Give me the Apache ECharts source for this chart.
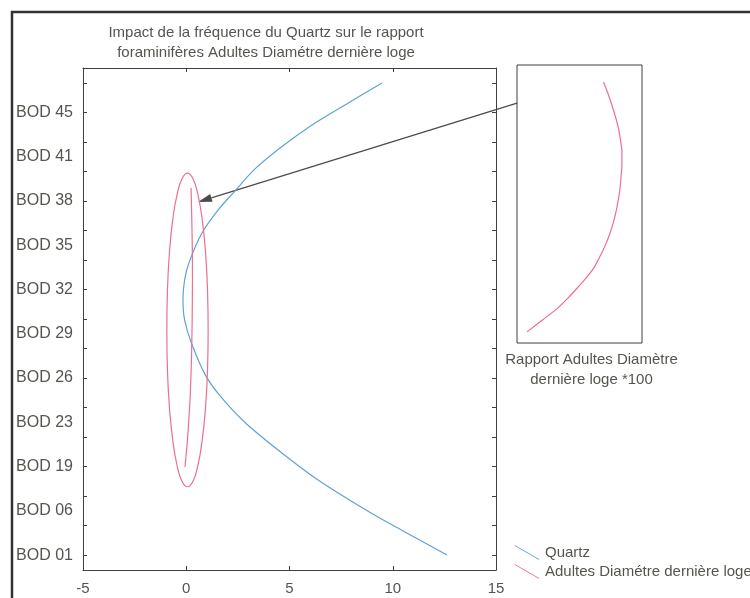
<!DOCTYPE html>
<html><head><meta charset="utf-8">
<script src="https://cdn.jsdelivr.net/npm/echarts@6/dist/echarts.min.js"></script>
<style>html,body{margin:0;padding:0;background:#fff}#c{width:750px;height:598px}</style>
</head><body><div id="c"></div>
<script>
// ---- data ----
const titleText = 'Impact de la fréquence du Quartz sur le rapport\nforaminifères Adultes Diamétre dernière loge';
const yTickLabels = ['BOD 01','BOD 06','BOD 19','BOD 23','BOD 26','BOD 29','BOD 32','BOD 35','BOD 38','BOD 41','BOD 45'];
const xTickValues = [-5, 0, 5, 10, 15];
const seriesNames = ['Quartz', 'Adultes Diamétre dernière loge'];
const insetCaption = 'Rapport Adultes Diamètre\ndernière loge *100';

const quartzX = [9.48, 7.69, 6.09, 4.54, 3.28, 2.41, 1.54, 0.76, 0.13, -0.08, -0.16, -0.08, 0.25, 0.93, 1.68, 2.87, 4.88, 6.53, 8.95, 10.59, 12.63];
const quartzY = [15.99, 15.25, 14.57, 13.79, 13.05, 12.37, 11.69, 10.91, 9.90, 9.32, 8.64, 7.97, 7.19, 6.10, 5.36, 4.48, 3.33, 2.48, 1.43, 0.79, 0.01];

const ellipseX = [1.06, 1.03, 0.93, 0.77, 0.56, 0.32, 0.06, -0.20, -0.44, -0.65, -0.81, -0.91, -0.94, -0.91, -0.81, -0.65, -0.44, -0.20, 0.06, 0.32, 0.56, 0.77, 0.93, 1.03, 1.06];
const ellipseY = [7.63, 9.00, 10.29, 11.38, 12.23, 12.76, 12.94, 12.76, 12.23, 11.38, 10.29, 9.00, 7.63, 6.26, 4.97, 3.88, 3.03, 2.50, 2.32, 2.50, 3.03, 3.88, 4.97, 6.26, 7.63];

const adultesX = [0.230, 0.247, 0.262, 0.276, 0.287, 0.295, 0.300, 0.300, 0.297, 0.293, 0.287, 0.279, 0.268, 0.254, 0.237, 0.217, 0.192, 0.162, 0.129, 0.093, 0.054, 0.000, -0.060];
const adultesY = [12.44, 12.00, 11.56, 11.10, 10.68, 10.20, 9.79, 9.35, 8.91, 8.45, 8.03, 7.60, 7.15, 6.70, 6.27, 5.85, 5.39, 5.00, 4.63, 4.25, 3.87, 3.45, 2.99];

const arrowTipMain = [0.57, 11.96];
const arrowTailInset = [-9.8, 11.64];

// ---- build ----
const FONT = "'Liberation Sans', Arial, sans-serif";
const TXT = '#55554f';
const AX = '#3f3f3f';
const BLUE = '#5ea2d6';
const PINK = '#ec6f8e';

const zip = (xs, ys, k) => xs.map((x, i) => [x * (k || 1), ys[i]]);
const yTickPos = Array.from({length: 17}, (_, i) => i);
const yLabelPos = yTickLabels.map((_, i) => i * 1.5);

const chart = echarts.init(document.getElementById('c'), null, {renderer: 'canvas'});
const frameAxisLine = {show: true, onZero: false, lineStyle: {color: AX, width: 1}};
chart.setOption({
  animation: false,
  backgroundColor: '#ffffff',
  textStyle: {fontFamily: FONT},
  title: {
    text: titleText, left: 261, top: 18, textAlign: 'center',
    textStyle: {fontSize: 15, fontWeight: 'normal', color: TXT, lineHeight: 20, fontFamily: FONT}
  },
  legend: {
    orient: 'vertical', left: 509, top: 540, itemWidth: 26, itemHeight: 14, itemGap: 4,
    symbolKeepAspect: false,
    icon: 'path://M0,0 L1.6,0 L26,13 L24.4,13 Z',
    data: seriesNames,
    textStyle: {fontSize: 15, color: TXT, fontFamily: FONT}
  },
  grid: [
    {left: 83, top: 68, width: 413, height: 502, containLabel: false},
    {left: 517, top: 65, width: 125, height: 278, show: true, borderColor: AX, borderWidth: 1, backgroundColor: 'transparent'}
  ],
  xAxis: [
    {type: 'value', gridIndex: 0, min: -5, max: 15, interval: 5, position: 'bottom',
     axisLine: frameAxisLine, splitLine: {show: false},
     axisTick: {show: true, inside: true, length: 4, lineStyle: {color: AX}},
     axisLabel: {fontSize: 15, color: TXT, margin: 11, fontFamily: FONT}},
    {type: 'value', gridIndex: 0, min: -5, max: 15, interval: 5, position: 'top',
     axisLine: frameAxisLine, splitLine: {show: false},
     axisTick: {show: true, inside: true, length: 4, lineStyle: {color: AX}},
     axisLabel: {show: false}},
    {type: 'value', gridIndex: 1, min: -9.8, max: 37.6, show: false}
  ],
  yAxis: [
    {type: 'value', gridIndex: 0, min: -0.5, max: 16.5, position: 'left',
     axisLine: frameAxisLine, splitLine: {show: false},
     axisTick: {show: true, inside: true, length: 4, lineStyle: {color: AX}, customValues: yTickPos},
     axisLabel: {fontSize: 16, color: TXT, margin: 10, fontFamily: FONT, customValues: yLabelPos,
       formatter: v => yTickLabels[Math.round(v / 1.5)] || ''}},
    {type: 'value', gridIndex: 0, min: -0.5, max: 16.5, position: 'right',
     axisLine: frameAxisLine, splitLine: {show: false},
     axisTick: {show: true, inside: true, length: 4, lineStyle: {color: AX}, customValues: yTickPos},
     axisLabel: {show: false}},
    {type: 'value', gridIndex: 1, min: 2.57, max: 13.08, show: false}
  ],
  series: [
    {name: seriesNames[0], type: 'line', xAxisIndex: 0, yAxisIndex: 0, data: zip(quartzX, quartzY),
     showSymbol: false, symbol: 'none', smooth: 0.35, color: BLUE, lineStyle: {width: 1.2, color: BLUE}},
    {name: seriesNames[1], type: 'line', xAxisIndex: 0, yAxisIndex: 0, data: zip(ellipseX, ellipseY),
     showSymbol: false, symbol: 'none', smooth: 0.5, color: PINK, lineStyle: {width: 1.2, color: PINK}},
    {name: seriesNames[1], type: 'line', xAxisIndex: 0, yAxisIndex: 0, data: zip(adultesX, adultesY),
     showSymbol: false, symbol: 'none', smooth: 0.3, color: PINK, lineStyle: {width: 1.2, color: PINK}},
    {name: seriesNames[1], type: 'line', xAxisIndex: 2, yAxisIndex: 2, data: zip(adultesX, adultesY, 100),
     showSymbol: false, symbol: 'none', smooth: 0.3, color: PINK, lineStyle: {width: 1.2, color: PINK}}
  ]
});

// annotations: arrow from inset to main plot, caption, figure border
const tip = chart.convertToPixel({gridIndex: 0}, arrowTipMain);
const tail = chart.convertToPixel({gridIndex: 1}, arrowTailInset);
const dx = tip[0] - tail[0], dy = tip[1] - tail[1];
const len = Math.hypot(dx, dy);
const ux = dx / len, uy = dy / len, nx = -uy, ny = ux;
const headL = 14, headW = 4;
const bx = tip[0] - ux * headL, by = tip[1] - uy * headL;
const gridRect = chart.getModel().getComponent('grid', 1).coordinateSystem.getRect();
chart.setOption({
  graphic: [
    {type: 'rect', id: 'border', shape: {x: 12, y: 12, width: 800, height: 700},
     style: {fill: 'none', stroke: '#333', lineWidth: 2.5}, silent: true},
    {type: 'line', id: 'arrowLine', shape: {x1: tail[0], y1: tail[1], x2: bx, y2: by},
     style: {stroke: '#4a4a4a', lineWidth: 1.2}},
    {type: 'polygon', id: 'arrowHead',
     shape: {points: [[tip[0], tip[1]], [bx + nx * headW, by + ny * headW], [bx - nx * headW, by - ny * headW]]},
     style: {fill: '#4a4a4a'}},
    {type: 'text', id: 'caption', x: gridRect.x + gridRect.width / 2 + 12, y: gridRect.y + gridRect.height + 7,
     style: {text: insetCaption, fill: TXT, font: '15px ' + FONT, lineHeight: 20, align: 'center', verticalAlign: 'top'}}
  ]
});
</script>
</body></html>
